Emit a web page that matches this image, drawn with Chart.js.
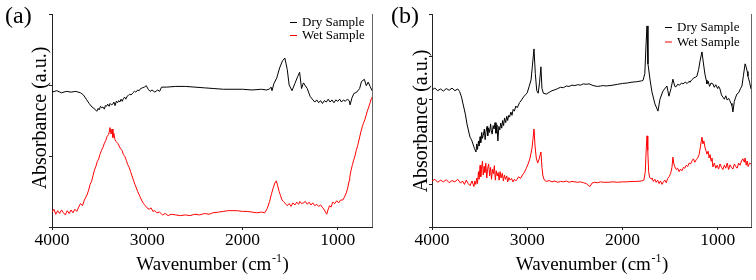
<!DOCTYPE html>
<html>
<head>
<meta charset="utf-8">
<script src="https://cdn.jsdelivr.net/npm/chart.js@4.4.0/dist/chart.umd.min.js"></script>
<style>
  body { margin: 0; background: #fff; }
  #wrap { position: relative; width: 756px; height: 280px; }
  canvas { position: absolute; top: 0; }
</style>
</head>
<body>
<div id="wrap">
  <canvas id="chartA" width="378" height="280" style="left:0"></canvas>
  <canvas id="chartB" width="378" height="280" style="left:378px"></canvas>
</div>
<script>
// texts
const seriesLabels = ['Dry Sample', 'Wet Sample'];
const yTitle = 'Absorbance (a.u.)';
const xTitleMain = 'Wavenumber (cm';
const xTitleSup = '-1';
const xTicks = [1000, 2000, 3000, 4000];
const yTicksA = [0, 1, 2, 3];
const yTicksB = [0, 1, 2, 3, 4, 5];

// panel (a) - [wavenumber, absorbance]
const dryA = [
  [4000,1.90],[3950,1.92],[3900,1.89],[3850,1.91],[3800,1.90],[3750,1.91],[3700,1.89],[3670,1.86],
  [3640,1.80],[3610,1.74],[3580,1.69],[3550,1.66],[3530,1.63],[3515,1.67],[3505,1.65],[3490,1.70],
  [3478,1.68],[3465,1.69],[3450,1.66],[3440,1.71],[3428,1.70],[3415,1.73],[3400,1.70],[3390,1.74],
  [3375,1.72],[3362,1.73],[3350,1.76],[3338,1.71],[3325,1.77],[3312,1.75],[3300,1.78],[3288,1.76],
  [3275,1.80],[3262,1.77],[3250,1.81],[3238,1.83],[3225,1.80],[3212,1.84],[3200,1.85],[3185,1.87],
  [3170,1.86],[3150,1.89],[3135,1.91],[3120,1.90],[3100,1.93],[3085,1.92],[3070,1.95],[3050,1.96],
  [3030,1.97],[3010,1.99],[2990,1.94],[2970,1.91],[2950,1.93],[2920,1.90],
  [2890,1.93],[2870,1.91],[2850,1.97],[2800,1.97],[2700,1.98],[2600,1.98],[2500,1.97],[2400,1.96],
  [2300,1.95],[2200,1.94],[2100,1.94],[2000,1.94],[1900,1.93],[1800,1.94],[1750,1.93],[1720,1.94],
  [1700,1.97],[1690,1.92],[1670,2.02],[1640,2.10],[1610,2.24],[1580,2.34],[1555,2.38],[1530,2.22],
  [1510,2.00],[1480,1.92],[1450,2.02],[1420,2.12],[1400,2.18],[1380,1.95],[1360,2.03],[1340,1.99],
  [1320,1.95],[1290,1.84],[1260,1.79],[1240,1.76],[1220,1.79],[1200,1.75],[1180,1.78],[1160,1.74],
  [1140,1.78],[1120,1.76],[1100,1.80],[1080,1.76],[1060,1.79],[1040,1.75],[1020,1.79],[1000,1.77],
  [980,1.80],[960,1.76],[940,1.79],[920,1.77],[900,1.80],[880,1.78],[870,1.72],[850,1.82],
  [830,1.88],[800,1.90],[770,1.95],[750,2.05],[720,2.08],[700,1.99],[680,2.04],[660,1.98],[640,1.92]
];
const wetA = [
  [4000,0.21],[3980,0.25],[3960,0.18],[3940,0.23],[3920,0.19],[3900,0.24],[3880,0.20],[3860,0.17],
  [3840,0.23],[3820,0.19],[3800,0.24],[3780,0.20],[3760,0.25],[3740,0.22],[3720,0.28],[3700,0.33],
  [3680,0.30],[3660,0.38],[3633,0.45],[3615,0.52],[3600,0.60],[3585,0.64],[3570,0.72],[3555,0.80],
  [3540,0.85],[3525,0.92],[3510,0.96],[3497,1.02],[3480,1.08],[3465,1.12],[3450,1.18],[3435,1.22],
  [3420,1.28],[3405,1.30],[3391,1.40],[3380,1.31],[3370,1.38],[3360,1.26],[3350,1.32],[3339,1.23],
  [3325,1.20],[3310,1.18],[3295,1.14],[3280,1.10],[3265,1.08],[3250,1.02],[3234,0.99],[3220,0.94],
  [3205,0.88],[3190,0.84],[3175,0.78],[3160,0.72],[3145,0.66],[3129,0.60],[3115,0.55],[3100,0.50],
  [3077,0.43],[3060,0.38],[3040,0.33],[3020,0.30],[3003,0.27],[2980,0.25],[2960,0.27],[2940,0.22],
  [2920,0.23],[2898,0.20],[2870,0.21],[2840,0.17],[2810,0.19],[2780,0.16],[2750,0.18],[2700,0.17],
  [2650,0.16],[2600,0.17],[2552,0.16],[2500,0.18],[2450,0.17],[2400,0.19],[2350,0.18],[2311,0.20],
  [2250,0.21],[2200,0.22],[2150,0.23],[2100,0.23],[2060,0.23],[2000,0.22],[1950,0.22],[1900,0.21],
  [1850,0.20],[1800,0.21],[1766,0.20],[1740,0.26],[1715,0.36],[1695,0.47],[1675,0.56],[1660,0.62],
  [1645,0.65],[1630,0.58],[1615,0.50],[1600,0.44],[1585,0.38],[1570,0.36],[1550,0.33],[1530,0.30],
  [1510,0.33],[1490,0.29],[1470,0.34],[1450,0.31],[1430,0.35],[1410,0.32],[1398,0.36],[1380,0.33],
  [1360,0.34],[1340,0.36],[1320,0.32],[1300,0.35],[1280,0.31],[1262,0.34],[1240,0.30],[1220,0.32],
  [1200,0.29],[1180,0.31],[1157,0.27],[1140,0.24],[1125,0.20],[1115,0.18],[1100,0.25],[1085,0.30],
  [1070,0.28],[1052,0.35],[1030,0.33],[1010,0.37],[990,0.34],[970,0.38],[947,0.38],[930,0.42],
  [910,0.48],[895,0.55],[880,0.65],[874,0.70],[860,0.80],[845,0.88],[835,0.93],[821,0.99],
  [805,1.08],[790,1.15],[769,1.27],[755,1.35],[740,1.42],[730,1.46],[716,1.51],[700,1.58],
  [690,1.63],[674,1.69],[660,1.75],[650,1.80],[642,1.83]
];

// panel (b)
const dryB = [
  [4000,3.22],[3970,3.26],[3940,3.20],[3910,3.24],[3880,3.19],[3850,3.25],[3820,3.21],[3790,3.26],
  [3760,3.20],[3730,3.24],[3710,3.18],[3690,3.05],[3674,2.89],[3650,2.65],[3633,2.42],[3601,2.11],
  [3585,2.05],[3570,1.95],[3555,1.85],[3538,1.76],[3530,1.95],[3522,1.82],[3512,2.02],[3505,1.90],
  [3495,2.12],[3488,1.98],[3478,2.22],[3470,2.08],[3462,2.15],[3450,2.30],[3442,2.05],[3432,2.25],
  [3422,2.36],[3415,2.14],[3405,2.32],[3395,2.22],[3385,2.42],[3377,2.26],[3368,2.18],[3358,2.38],
  [3348,2.30],[3338,2.45],[3328,2.20],[3318,2.40],[3308,2.02],[3298,2.36],[3288,2.28],[3278,2.44],
  [3268,2.32],[3258,2.50],[3248,2.38],[3238,2.56],[3226,2.45],[3215,2.60],[3205,2.50],[3195,2.62],
  [3185,2.58],[3172,2.70],[3160,2.62],[3148,2.76],[3135,2.72],[3120,2.84],[3105,2.80],
  [3080,2.92],[3060,2.98],[3040,3.05],[3020,3.10],[3000,3.15],[2980,3.30],
  [2960,3.45],[2945,3.80],[2929,4.18],[2915,3.60],[2900,3.20],[2885,3.14],[2870,3.40],[2856,3.76],
  [2845,3.25],[2830,3.14],[2800,3.12],[2770,3.16],[2740,3.20],[2710,3.22],[2680,3.25],[2650,3.28],
  [2620,3.27],[2590,3.31],[2560,3.30],[2530,3.33],[2500,3.32],[2470,3.34],[2440,3.33],[2410,3.36],
  [2380,3.35],[2350,3.36],[2320,3.33],[2290,3.31],[2260,3.30],[2230,3.31],[2200,3.32],[2170,3.31],
  [2100,3.33],[2050,3.35],[2000,3.37],[1950,3.38],[1900,3.40],[1850,3.41],[1800,3.43],[1784,3.44],
  [1765,3.60],[1752,4.30],[1742,4.72],[1732,3.83],[1710,3.45],[1690,3.17],[1659,2.89],[1627,2.72],
  [1606,3.00],[1575,3.19],[1533,3.31],[1512,3.07],[1490,3.25],[1470,3.47],[1450,3.30],[1438,3.29],
  [1420,3.35],[1400,3.33],[1380,3.38],[1365,3.36],[1340,3.40],[1320,3.37],[1300,3.42],[1291,3.40],
  [1270,3.46],[1250,3.50],[1230,3.52],[1218,3.54],[1200,3.70],[1185,3.90],[1165,4.11],[1150,3.85],
  [1134,3.59],[1120,3.45],[1113,3.36],[1100,3.42],[1085,3.30],[1070,3.38],[1050,3.36],[1035,3.28],
  [1020,3.34],[1000,3.25],[990,3.30],[976,3.24],[960,3.10],[945,3.05],[930,3.00],[915,3.08],
  [900,2.98],[885,3.02],[871,2.96],[860,2.90],[850,2.85],[840,2.70],[825,2.95],[810,3.05],
  [798,3.12],[780,3.15],[760,3.25],[745,3.31],[730,3.55],[712,3.83],[700,3.75],[690,3.65],
  [682,3.54],[665,3.40],[650,3.24]
];
const wetB = [
  [4000,1.08],[3970,1.12],[3940,1.05],[3910,1.10],[3880,1.06],[3850,1.11],[3820,1.04],[3790,1.09],
  [3760,1.06],[3730,1.12],[3700,1.03],[3680,1.08],[3660,1.00],[3640,1.10],[3620,1.02],[3600,0.97],
  [3580,1.08],[3560,0.95],[3550,1.08],[3540,1.00],[3530,1.15],[3522,1.02],[3512,1.30],[3505,1.12],
  [3495,1.45],[3488,1.18],[3480,1.35],[3470,1.55],[3462,1.22],[3452,1.42],[3445,1.28],[3435,1.50],
  [3425,1.15],[3415,1.38],[3405,1.48],[3395,1.20],[3385,1.40],[3375,1.12],[3365,1.36],[3355,1.25],
  [3345,1.44],[3335,1.10],[3325,1.32],[3315,1.20],[3305,1.28],[3295,1.10],[3285,1.30],[3275,1.15],
  [3262,1.26],[3250,1.08],[3240,1.22],[3228,1.12],[3215,1.20],[3205,1.06],[3192,1.16],[3180,1.10],
  [3165,1.14],[3150,1.06],[3135,1.12],[3120,1.08],[3110,1.11],
  [3090,1.18],[3070,1.14],[3050,1.22],[3030,1.28],[3010,1.38],[2990,1.48],[2970,1.62],[2950,1.85],
  [2940,2.05],[2929,2.30],[2918,1.90],[2905,1.62],[2890,1.50],[2875,1.60],[2856,1.76],[2845,1.40],
  [2835,1.20],[2820,1.10],[2800,1.07],[2770,1.09],[2740,1.06],[2710,1.08],[2680,1.05],[2650,1.07],
  [2620,1.06],[2590,1.08],[2560,1.05],[2530,1.07],[2500,1.06],[2470,1.05],[2440,1.06],[2410,1.04],
  [2380,1.02],[2360,0.98],[2340,0.95],[2320,1.03],[2290,1.05],[2260,1.04],[2230,1.06],[2200,1.05],
  [2150,1.05],[2100,1.06],[2050,1.05],[2000,1.06],[1950,1.06],[1900,1.07],[1850,1.07],[1800,1.08],
  [1775,1.10],[1760,1.30],[1750,1.85],[1742,2.14],[1734,1.80],[1725,1.30],[1715,1.17],[1700,1.13],
  [1690,1.15],[1675,1.07],[1660,1.12],[1645,1.05],[1630,1.10],[1615,1.02],[1600,1.08],[1585,1.00],
  [1570,1.06],[1555,1.10],[1540,1.04],[1525,1.14],[1510,1.18],[1495,1.25],[1480,1.40],[1470,1.64],
  [1460,1.48],[1450,1.41],[1435,1.35],[1420,1.38],[1405,1.30],[1390,1.36],[1375,1.32],[1360,1.40],
  [1345,1.38],[1330,1.45],[1315,1.42],[1300,1.50],[1285,1.48],[1270,1.55],[1255,1.60],[1240,1.52],
  [1225,1.58],[1210,1.62],[1195,1.70],[1180,1.90],[1165,2.11],[1155,1.95],[1145,2.02],[1134,1.88],
  [1124,1.80],[1113,1.71],[1100,1.78],[1090,1.62],[1080,1.70],[1070,1.55],[1060,1.62],[1050,1.41],
  [1035,1.50],[1020,1.38],[1005,1.45],[990,1.36],[975,1.48],[960,1.40],[945,1.35],[930,1.45],
  [915,1.38],[900,1.50],[885,1.35],[871,1.46],[855,1.40],[840,1.36],[825,1.48],[810,1.42],
  [795,1.38],[780,1.50],[765,1.45],[750,1.55],[735,1.60],[720,1.52],[712,1.62],[700,1.45],
  [690,1.55],[680,1.42],[665,1.50],[650,1.48]
];

const serif = '"Liberation Serif", "Times New Roman", serif';

function toXY(pairs) {
  return pairs.map(p => ({ x: p[0], y: p[1] }));
}

// titles, panel letter, legend and the right frame line
function decorPlugin(o) {
  return {
    id: 'decor',
    afterDraw(chart) {
      const ctx = chart.ctx;
      const area = chart.chartArea;
      ctx.save();

      ctx.strokeStyle = '#666';
      ctx.lineWidth = 1;
      ctx.beginPath();
      ctx.moveTo(area.right + 0.5, area.top);
      ctx.lineTo(area.right + 0.5, area.bottom);
      ctx.stroke();

      ctx.fillStyle = '#000';
      ctx.textBaseline = 'alphabetic';
      ctx.textAlign = 'left';
      ctx.font = '24px ' + serif;
      ctx.fillText(o.letter, o.letterX, 23);

      // y title
      ctx.save();
      ctx.translate(o.yTitleX, o.yTitleY);
      ctx.rotate(-Math.PI / 2);
      ctx.textAlign = 'center';
      ctx.font = '20px ' + serif;
      ctx.fillText(yTitle, 0, 0);
      ctx.restore();

      // x title with superscript
      ctx.font = '19px ' + serif;
      const w1 = ctx.measureText(xTitleMain).width;
      const w3 = ctx.measureText(')').width;
      ctx.font = '12px ' + serif;
      const w2 = ctx.measureText(xTitleSup).width;
      let x = (area.left + area.right) / 2 - (w1 + w2 + w3) / 2;
      ctx.font = '19px ' + serif;
      ctx.fillText(xTitleMain, x, 270);
      ctx.font = '12px ' + serif;
      ctx.fillText(xTitleSup, x + w1 + 0.5, 262);
      ctx.font = '19px ' + serif;
      ctx.fillText(')', x + w1 + w2 + 1, 270);

      // legend
      ctx.font = '13px ' + serif;
      chart.data.datasets.forEach((ds, i) => {
        const base = o.legendY + i * o.legendGap;
        ctx.strokeStyle = ds.borderColor;
        ctx.beginPath();
        ctx.moveTo(o.legendX, base - 3.5);
        ctx.lineTo(o.legendX + 7, base - 3.5);
        ctx.stroke();
        ctx.fillStyle = '#000';
        ctx.fillText(ds.label, o.legendX + 12, base);
      });

      ctx.restore();
    }
  };
}

function buildChart(id, o) {
  return new Chart(document.getElementById(id), {
    type: 'line',
    data: {
      datasets: [
        { label: seriesLabels[0], data: toXY(o.dry), borderColor: '#000000' },
        { label: seriesLabels[1], data: toXY(o.wet), borderColor: '#ff0000' }
      ]
    },
    options: {
      responsive: false,
      animation: false,
      layout: { padding: { left: 0, right: o.padRight, top: 14, bottom: 0 } },
      elements: {
        point: { radius: 0 },
        line: { borderWidth: 1, tension: 0 }
      },
      plugins: { legend: { display: false }, tooltip: { enabled: false } },
      scales: {
        x: {
          type: 'linear',
          reverse: true,
          min: o.xMin,
          max: 4000,
          afterBuildTicks: s => { s.ticks = xTicks.map(v => ({ value: v })); },
          afterFit: s => { s.height = 53; },
          grid: { drawOnChartArea: false, drawTicks: true, tickLength: 3, color: '#222' },
          border: { color: '#222', width: 1 },
          ticks: {
            color: '#000',
            padding: 0,
            maxRotation: 0,
            font: { family: serif, size: 17.5 },
            callback: v => String(v)
          }
        },
        y: {
          min: 0,
          max: o.yTicks[o.yTicks.length - 1],
          afterBuildTicks: s => { s.ticks = o.yTicks.map(v => ({ value: v })); },
          afterFit: s => { s.width = o.axisLeft; },
          grid: { drawOnChartArea: false, drawTicks: true, tickLength: 3, color: '#222' },
          border: { color: '#222', width: 1 },
          ticks: { display: false }
        }
      }
    },
    plugins: [decorPlugin(o)]
  });
}

buildChart('chartA', {
  dry: dryA, wet: wetA, xMin: 640, yTicks: yTicksA,
  axisLeft: 52, padRight: 6,
  letter: '(a)', letterX: 5,
  yTitleX: 46, yTitleY: 118,
  legendX: 290, legendY: 26, legendGap: 13
});

buildChart('chartB', {
  dry: dryB, wet: wetB, xMin: 650, yTicks: yTicksB,
  axisLeft: 54, padRight: 5,
  letter: '(b)', letterX: 13,
  yTitleX: 49, yTitleY: 121,
  legendX: 287, legendY: 31, legendGap: 14.5
});
</script>
</body>
</html>
